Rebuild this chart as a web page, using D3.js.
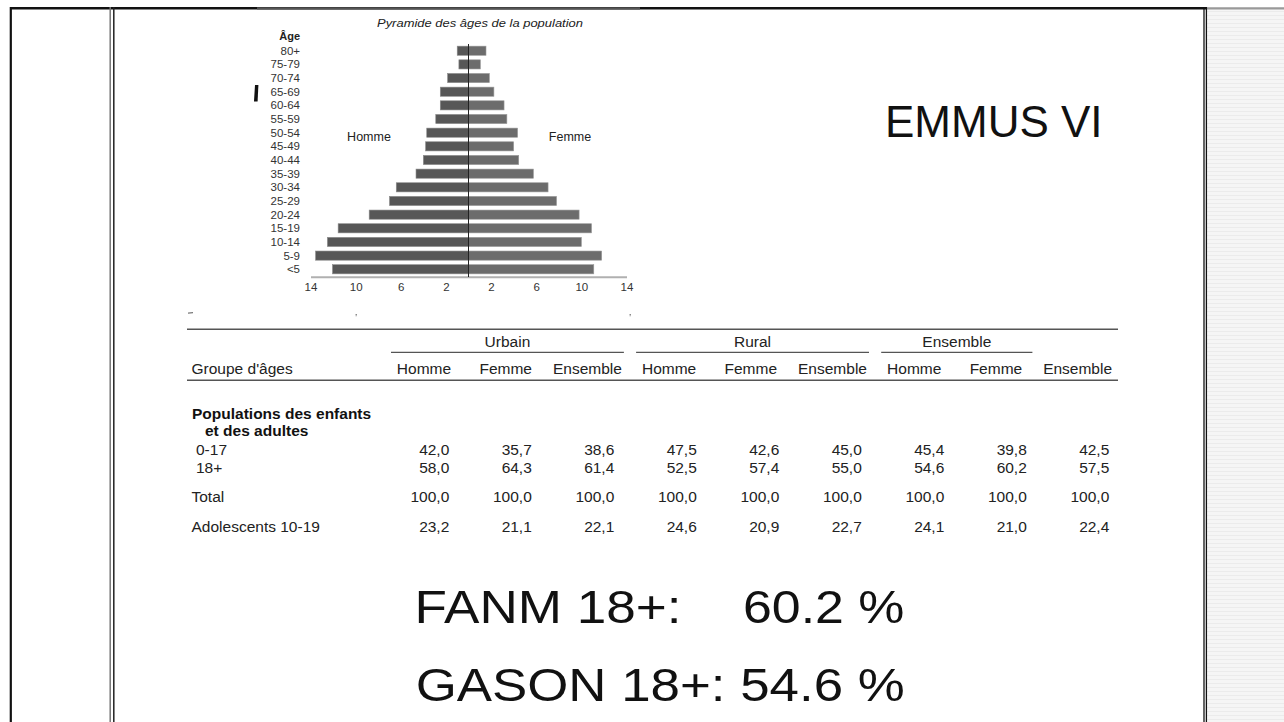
<!DOCTYPE html>
<html>
<head>
<meta charset="utf-8">
<script src="https://cdn.jsdelivr.net/npm/d3@7"></script>
<style>
  body { margin: 0; background: #fff; }
  svg { display: block; font-family: "Liberation Sans", Arial, sans-serif; }
</style>
</head>
<body>
<div id="slide"></div>
<script>
// --- pyramid data (% of population) ---
const ageGroups = ["80+", "75-79", "70-74", "65-69", "60-64", "55-59", "50-54", "45-49", "40-44",
    "35-39", "30-34", "25-29", "20-24", "15-19", "10-14", "5-9", "<5"];
const hommeValues = [1.0, 0.85, 1.85, 2.5, 2.5, 2.9, 3.7, 3.8, 4.0, 4.65, 6.4, 7.0, 8.8, 11.55, 12.5, 13.55, 12.05];
const femmeValues = [1.55, 1.05, 1.85, 2.25, 3.15, 3.4, 4.35, 4.0, 4.45, 5.75, 7.05, 7.8, 9.8, 10.9, 10.0, 11.8, 11.1];
const pyramidTicks = [-14, -10, -6, -2, 2, 6, 10, 14];

// --- table data ---
const tableGroups = ["Urbain", "Rural", "Ensemble"];
const groupSpans = [[0, 2], [3, 5], [6, 7]];
const tableColumns = ["Homme", "Femme", "Ensemble", "Homme", "Femme", "Ensemble", "Homme", "Femme", "Ensemble"];
const row0to17 = [42.0, 35.7, 38.6, 47.5, 42.6, 45.0, 45.4, 39.8, 42.5];
const row18plus = [58.0, 64.3, 61.4, 52.5, 57.4, 55.0, 54.6, 60.2, 57.5];
const rowTotal = [100.0, 100.0, 100.0, 100.0, 100.0, 100.0, 100.0, 100.0, 100.0];
const rowAdolescents = [23.2, 21.1, 22.1, 24.6, 20.9, 22.7, 24.1, 21.0, 22.4];

const W = 1284, H = 722;
const svg = d3.select("#slide").append("svg")
    .attr("width", W)
    .attr("height", H);

// right side panel with faint stripes
const pat = svg.append("defs").append("pattern")
    .attr("id", "stripes")
    .attr("width", 8).attr("height", 4)
    .attr("patternUnits", "userSpaceOnUse");
pat.append("rect").attr("width", 8).attr("height", 4).attr("fill", "#f5f5f5");
pat.append("rect").attr("y", 3).attr("width", 8).attr("height", 1).attr("fill", "#ebebeb");
svg.append("rect").attr("x", 1207).attr("y", 9).attr("width", W - 1207).attr("height", H - 9)
    .attr("fill", "url(#stripes)");

// frame lines
svg.append("line").attr("x1", 10).attr("x2", 1207).attr("y1", 8.2).attr("y2", 8.2)
    .attr("stroke", "#111").attr("stroke-width", 2.4);
svg.append("line").attr("x1", 257).attr("x2", 640).attr("y1", 8.4).attr("y2", 8.4)
    .attr("stroke", "#555").attr("stroke-width", 2.2);
svg.append("line").attr("x1", 1207).attr("x2", W).attr("y1", 8.4).attr("y2", 8.4)
    .attr("stroke", "#999").attr("stroke-width", 2.2);
const vlines = [[10.8, "#111", 2.2], [110.2, "#777", 1.5], [113.8, "#222", 1.5], [1204, "#111", 1.3], [1206.4, "#111", 1.3]];
svg.selectAll(".vline").data(vlines).enter().append("line")
    .attr("class", "vline")
    .attr("x1", d => d[0]).attr("x2", d => d[0])
    .attr("y1", 7).attr("y2", H)
    .attr("stroke", d => d[1]).attr("stroke-width", d => d[2]);

// leftover glyph bits peeking out from under the pyramid image
svg.append("path").attr("d", "M255,85 L258.4,85 L257.6,101.5 L254,101.5 Z").attr("fill", "#111");
svg.append("path").attr("d", "M188,312.5 L193,312 L193,313.3 L188,313.8 Z").attr("fill", "#777");
svg.append("path").attr("d", "M355.5,314 L357,314 L356,317 Z").attr("fill", "#777");
svg.append("path").attr("d", "M629.5,314 L631,314 L630,317 Z").attr("fill", "#777");

// ---------------- pyramid ----------------
const cx = 468.5;
const pyr = svg.append("g");

const y = d3.scaleBand().domain(ageGroups).range([43.9, 276.1])
    .paddingInner(0.33).paddingOuter(0.165);
const len = d3.scaleLinear().domain([0, 14]).range([0, 158]);
const xAxisScale = d3.scaleLinear().domain([-14, 14]).range([cx - 158, cx + 158]);

pyr.append("text")
    .attr("x", 480).attr("y", 26.5)
    .attr("text-anchor", "middle")
    .attr("font-size", 10.5).attr("font-style", "italic").attr("fill", "#222")
    .attr("textLength", 206).attr("lengthAdjust", "spacingAndGlyphs")
    .text("Pyramide des âges de la population");

pyr.append("text")
    .attr("x", 300).attr("y", 40)
    .attr("text-anchor", "end")
    .attr("font-size", 11).attr("font-weight", "bold").attr("fill", "#222")
    .text("Âge");

pyr.selectAll(".age").data(ageGroups).enter().append("text")
    .attr("class", "age")
    .attr("x", 300)
    .attr("y", d => y(d) + y.bandwidth() / 2 + 4)
    .attr("text-anchor", "end")
    .attr("font-size", 11.5).attr("fill", "#333")
    .text(d => d);

pyr.selectAll(".homme").data(hommeValues).enter().append("rect")
    .attr("class", "homme")
    .attr("x", d => cx - len(d))
    .attr("y", (d, i) => y(ageGroups[i]))
    .attr("width", d => len(d))
    .attr("height", y.bandwidth())
    .attr("fill", "#575757").attr("stroke", "#8a8a8a").attr("stroke-width", 0.6);

pyr.selectAll(".femme").data(femmeValues).enter().append("rect")
    .attr("class", "femme")
    .attr("x", cx)
    .attr("y", (d, i) => y(ageGroups[i]))
    .attr("width", d => len(d))
    .attr("height", y.bandwidth())
    .attr("fill", "#6c6c6c").attr("stroke", "#999").attr("stroke-width", 0.6);

// axis
const axis = pyr.append("g")
    .attr("transform", "translate(0,276.7)")
    .call(d3.axisBottom(xAxisScale).tickValues(pyramidTicks)
        .tickSize(0).tickPadding(6).tickFormat(d => Math.abs(d)));
axis.select(".domain").attr("stroke", "#b0b0b0").attr("stroke-width", 2);
axis.selectAll("text").attr("font-size", 11.5).attr("fill", "#333")
    .attr("font-family", "Liberation Sans, Arial, sans-serif");

pyr.append("line")
    .attr("x1", cx).attr("x2", cx).attr("y1", 44).attr("y2", 277)
    .attr("stroke", "#222").attr("stroke-width", 1);

pyr.append("text").attr("x", 369).attr("y", 140.5).attr("text-anchor", "middle")
    .attr("font-size", 12.5).attr("fill", "#222").text("Homme");
pyr.append("text").attr("x", 570).attr("y", 140.5).attr("text-anchor", "middle")
    .attr("font-size", 12.5).attr("fill", "#222").text("Femme");

// ---------------- table ----------------
const fr = d3.formatLocale({ decimal: ",", thousands: " ", grouping: [3], currency: ["", " €"] });
const fmt = fr.format(".1f");

const tbl = svg.append("g").attr("font-size", 15.5).attr("fill", "#222");
const headerX = d3.scalePoint().domain(d3.range(tableColumns.length)).range([424, 1077.6]);
const numX = d3.scalePoint().domain(d3.range(tableColumns.length)).range([449.3, 1109.3]);

const rule = (x1, x2, yy, w) => tbl.append("line")
    .attr("x1", x1).attr("x2", x2).attr("y1", yy).attr("y2", yy)
    .attr("stroke", "#555").attr("stroke-width", w);

rule(187, 1118, 329.3, 1.6);
rule(187, 1118, 380.2, 1.6);

groupSpans.forEach((s, i) => {
    const x1 = headerX(s[0]) - 33, x2 = headerX(s[1]) + 36.5;
    rule(x1, x2, 352.3, 1.3);
    tbl.append("text").attr("x", (x1 + x2) / 2).attr("y", 346.5)
        .attr("text-anchor", "middle").text(tableGroups[i]);
});

tbl.selectAll(".colhead").data(tableColumns).enter().append("text")
    .attr("class", "colhead")
    .attr("x", (d, i) => headerX(i)).attr("y", 373.5)
    .attr("text-anchor", "middle").text(d => d);

tbl.append("text").attr("x", 191.5).attr("y", 373.5).text("Groupe d'âges");
tbl.append("text").attr("x", 192).attr("y", 419).attr("font-weight", "bold").attr("fill", "#111")
    .text("Populations des enfants");
tbl.append("text").attr("x", 205).attr("y", 435.5).attr("font-weight", "bold").attr("fill", "#111")
    .text("et des adultes");

const bodyRows = [
    { label: "0-17", x: 196, y: 455, values: row0to17 },
    { label: "18+", x: 196, y: 472.5, values: row18plus },
    { label: "Total", x: 191.5, y: 501.5, values: rowTotal },
    { label: "Adolescents 10-19", x: 191.5, y: 531.5, values: rowAdolescents }
];

bodyRows.forEach(r => {
    tbl.append("text").attr("x", r.x).attr("y", r.y).text(r.label);
    tbl.selectAll(null).data(r.values).enter().append("text")
        .attr("x", (d, i) => numX(i)).attr("y", r.y)
        .attr("text-anchor", "end")
        .text(d => fmt(d));
});

// ---------------- big slide texts ----------------
svg.append("text").attr("x", 885).attr("y", 136.5)
    .attr("font-size", 44).attr("fill", "#111").text("EMMUS VI");

const pct = v => d3.format(".1f")(v) + " %";
svg.append("text").attr("x", 414.5).attr("y", 623.3)
    .attr("font-size", 46.5).attr("fill", "#111")
    .attr("textLength", 267).attr("lengthAdjust", "spacingAndGlyphs")
    .text("FANM 18+:");
svg.append("text").attr("x", 743).attr("y", 623.3)
    .attr("font-size", 46.5).attr("fill", "#111")
    .attr("textLength", 161.5).attr("lengthAdjust", "spacingAndGlyphs")
    .text(pct(row18plus[7]));
svg.append("text").attr("x", 415.7).attr("y", 700.8)
    .attr("font-size", 46.5).attr("fill", "#111")
    .attr("textLength", 489).attr("lengthAdjust", "spacingAndGlyphs")
    .text("GASON 18+: " + pct(row18plus[6]));
</script>
</body>
</html>
